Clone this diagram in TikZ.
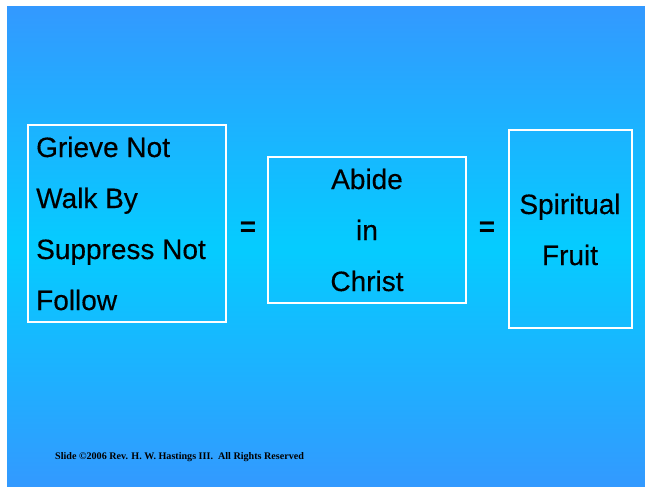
\documentclass[tikz,border=0pt]{standalone}
\usepackage{fontspec}
\setmainfont{Liberation Sans}
\newfontfamily\heavyfont[FakeBold=0.35]{Liberation Sans}
\newfontfamily\footfont{Liberation Serif}
\definecolor{bgtop}{RGB}{51,153,255}
\definecolor{bgmid}{RGB}{5,204,255}
\tikzset{
  framebox/.style={draw=white, line width=2pt},
  bigtext/.style={font=\heavyfont\fontsize{28}{28}\selectfont, text=black, inner sep=0pt},
  eqtext/.style={font=\bfseries\fontsize{28}{28}\selectfont, text=black, inner sep=0pt},
  foot/.style={font=\footfont\bfseries\fontsize{10.1}{11}\selectfont, text=black, inner sep=0pt}
}
\begin{document}
\begin{tikzpicture}[x=1pt,y=-1pt]
\useasboundingbox (0,0) rectangle (645,487);
\fill[white] (0,0) rectangle (645,487);
\shade[top color=bgtop, bottom color=bgtop, middle color=bgmid] (7,7) rectangle (645,487);
% boxes
\draw[framebox] (28,125) rectangle (226,322);
\draw[framebox] (268,157) rectangle (466,303);
\draw[framebox] (509,130) rectangle (632,328);
% left box text
\node[bigtext, anchor=base west] (g) at (36,157) {Grieve Not};
\node[bigtext, anchor=base west] (w) at (36,208) {Walk By};
\node[bigtext, anchor=base west] (s) at (36,259) {Suppress Not};
\node[bigtext, anchor=base west] (f) at (36,310) {Follow};
% middle
\node[bigtext, anchor=base] (a) at (367,189) {Abide};
\node[bigtext, anchor=base] (i) at (367,240) {in};
\node[bigtext, anchor=base] (c) at (367,291) {Christ};
% right
\node[bigtext, anchor=base] (sp) at (570,214) {Spiritual};
\node[bigtext, anchor=base] (fr) at (570,265) {Fruit};
% equals
\node[eqtext, anchor=base] (e1) at (248,236) {=};
\node[eqtext, anchor=base] (e2) at (487,236) {=};
% footer
\node[foot, anchor=base west] (ft) at (55,459) {Slide ©2006 Rev. H. W. Hastings III.\ \ All Rights Reserved};
\end{tikzpicture}
\end{document}
